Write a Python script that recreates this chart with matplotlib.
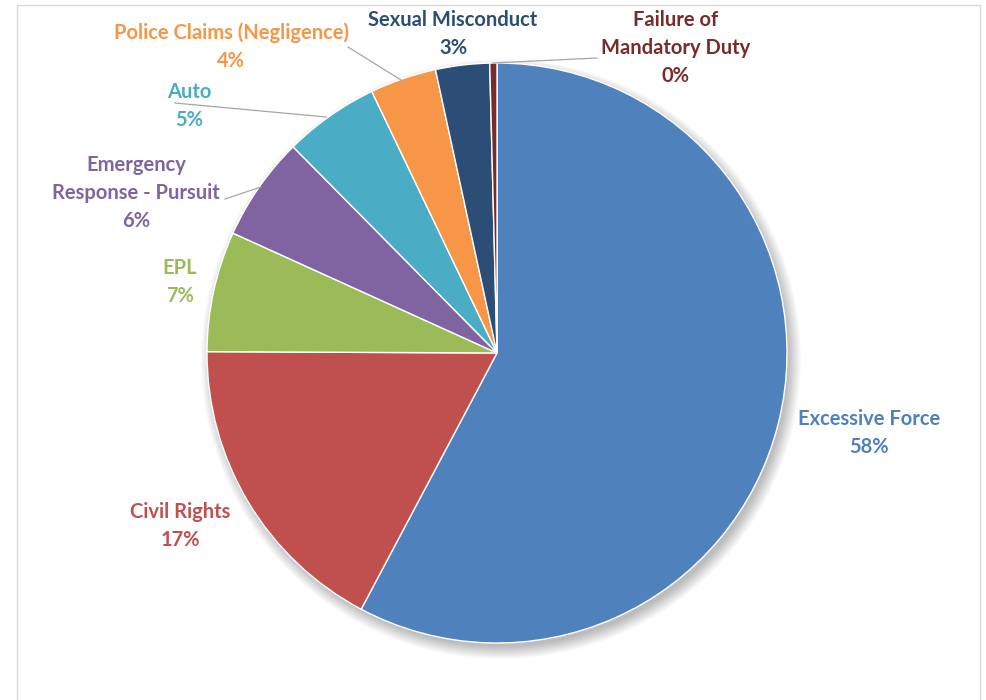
import matplotlib.pyplot as plt
from matplotlib.patches import Circle, Rectangle

# claim categories, share of total (percent)
categories = ['Excessive Force', 'Civil Rights', 'EPL', 'Emergency\nResponse - Pursuit',
              'Auto', 'Police Claims (Negligence)', 'Sexual Misconduct',
              'Failure of\nMandatory Duty']
shares = [57.7, 17.3, 6.7, 5.8, 5.3, 3.7, 3.0, 0.4]
colors = ['#4F81BD', '#C0504D', '#9BBB59', '#8064A2', '#4BACC6', '#F79646',
          '#2C4D75', '#772C2A']

# label block centres (px from top-left) and optional leader line
label_pos = [(869, 433), (180, 526), (180, 282), (136, 193), (189, 106),
             (231, 47), (453, 34), (676, 48)]
leaders = {3: [(225, 199), (261, 187)],
           4: [(175, 103), (326, 117)],
           5: [(348, 47), (401, 80)],
           7: [(597, 58), (493, 63)]}

W, H = 987, 700
cx, cy, r = 497, H - 353, 290

fig = plt.figure(figsize=(W / 100, H / 100), dpi=100)
ax = fig.add_axes([0, 0, 1, 1])

# chart frame
ax.add_patch(Rectangle((17, -10), 963, H - 5 + 10, fill=False, ec='#D9D9D9', lw=1))

# soft drop shadow under the pie
for i in range(14):
    ax.add_patch(Circle((cx + 4, cy - 6), r + 10 - i, color='black', alpha=0.018, lw=0))

wedges, _ = ax.pie(shares, colors=colors, startangle=90, counterclock=False,
                   center=(cx, cy), radius=r, frame=True,
                   wedgeprops=dict(edgecolor='white', linewidth=1))
ax.set_xlim(0, W)
ax.set_ylim(0, H)
ax.set_aspect('equal')
ax.axis('off')

for i, (name, val) in enumerate(zip(categories, shares)):
    x, y = label_pos[i]
    text = f'{name}\n{val:.0f}%'
    ax.text(x, H - y, text, ha='center', va='center', color=colors[i],
            fontsize=14.5, fontweight='bold', family=['Lato', 'DejaVu Sans'],
            linespacing=1.5)
    if i in leaders:
        (x0, y0), (x1, y1) = leaders[i]
        ax.plot([x0, x1], [H - y0, H - y1], color='#A6A6A6', lw=0.9)

fig.savefig('out.png', dpi=100)
